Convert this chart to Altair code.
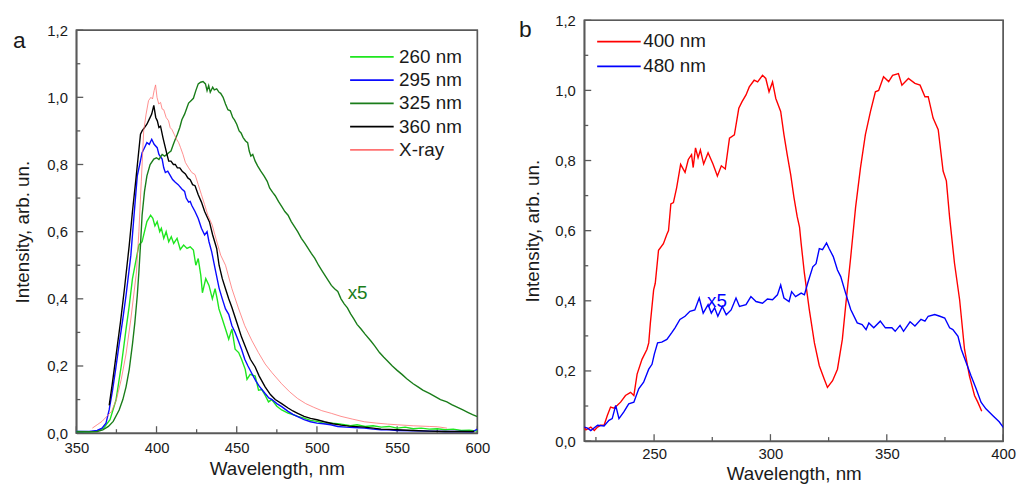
import altair as alt
import pandas as pd

# ---------------- data: panel a (emission spectra) ----------------
NAMES_A = ["260 nm", "295 nm", "325 nm", "360 nm", "X-ray"]
COLORS_A = ["#1ee61e", "#0a0aff", "#1a7d1a", "#000000", "#ff7272"]

EXC_260 = [(350, 0.005), (358, 0.004), (363, 0.006), (367, 0.015), (371, 0.04), (374.7, 0.098), (378, 0.2),
           (381, 0.31), (383, 0.38), (385, 0.46), (387, 0.51), (389, 0.56), (391, 0.57), (392.5, 0.6),
           (394, 0.63), (396.3, 0.649), (397.7, 0.64), (399, 0.617), (400.4, 0.63), (402, 0.60), (403, 0.61),
           (404.5, 0.58), (406, 0.60), (407.6, 0.57), (409.2, 0.585), (410.7, 0.565), (412.8, 0.58),
           (414.8, 0.547), (416.9, 0.56), (419, 0.55), (421, 0.555), (423, 0.545), (424.5, 0.50), (426, 0.52),
           (427.6, 0.47), (428.6, 0.418), (430.7, 0.46), (432.7, 0.44), (434.8, 0.40), (436.5, 0.43),
           (437.8, 0.40), (438.9, 0.37), (441, 0.34), (443, 0.31), (445, 0.28), (447, 0.31), (449, 0.25),
           (451.2, 0.24), (453, 0.22), (455.3, 0.19), (456.4, 0.16), (458.4, 0.175), (461.5, 0.17),
           (463.6, 0.128), (465.6, 0.13), (468, 0.11), (469.8, 0.093), (471.8, 0.10), (475, 0.08), (478, 0.069),
           (482, 0.06), (485, 0.055), (488, 0.05), (492, 0.045), (496, 0.038), (500, 0.035), (504, 0.03),
           (508.6, 0.03), (513, 0.028), (517, 0.025), (521, 0.022), (525, 0.025), (530, 0.02), (535, 0.022),
           (540, 0.018), (545, 0.02), (550, 0.015), (555, 0.018), (560, 0.013), (565, 0.015), (570, 0.012),
           (575, 0.013), (580, 0.01), (585, 0.012), (590, 0.008), (595, 0.009), (600, 0.006)]

EXC_295 = [(350, 0.005), (358, 0.005), (363, 0.008), (366, 0.015), (368.5, 0.03), (370.5, 0.07), (372.6, 0.128),
           (374.5, 0.19), (376.7, 0.265), (379, 0.34), (381, 0.41), (384, 0.53), (386, 0.65), (388, 0.766),
           (389.5, 0.80), (391, 0.835), (392.5, 0.85), (394, 0.865), (395.5, 0.86), (397, 0.875), (398.5, 0.86),
           (400.4, 0.85), (401.5, 0.83), (403.5, 0.816), (404.5, 0.79), (405.5, 0.776), (407, 0.78),
           (408.6, 0.767), (410, 0.755), (411.7, 0.747), (413.5, 0.74), (415.8, 0.727), (417.5, 0.72),
           (418.5, 0.70), (420, 0.688), (421, 0.69), (422, 0.678), (424, 0.66), (426, 0.639), (428, 0.61),
           (430, 0.59), (431.5, 0.60), (432.7, 0.57), (434.4, 0.54), (436.5, 0.49), (439, 0.432), (441, 0.40),
           (443, 0.37), (445, 0.354), (447, 0.32), (449, 0.30), (451, 0.275), (453, 0.25), (455, 0.22),
           (457, 0.20), (459.5, 0.177), (462, 0.155), (464, 0.14), (467.7, 0.118), (470, 0.105), (472, 0.10),
           (475, 0.088), (478, 0.079), (482, 0.065), (485, 0.056), (488, 0.049), (492, 0.04), (496, 0.034),
           (500, 0.03), (504, 0.028), (508.6, 0.025), (513, 0.02), (518, 0.018), (523, 0.017), (529.5, 0.015),
           (535, 0.012), (540, 0.01), (545, 0.01), (550, 0.008), (560, 0.007), (570, 0.006), (580, 0.005),
           (590, 0.005), (597, 0.004), (600, 0.012)]

EXC_325 = [(350, 0.004), (358, 0.004), (363, 0.005), (366.5, 0.01), (370, 0.02), (373, 0.035), (376.7, 0.069),
           (379, 0.10), (381, 0.138), (383, 0.19), (385, 0.265), (386.5, 0.33), (388, 0.41), (389, 0.48),
           (390, 0.56), (391, 0.649), (392.5, 0.72), (394, 0.766), (396, 0.80), (398.3, 0.816), (400, 0.82),
           (401.5, 0.815), (403.5, 0.83), (405, 0.825), (406.5, 0.83), (407.6, 0.835), (409, 0.84),
           (410.5, 0.86), (411.7, 0.875), (413, 0.89), (414.5, 0.91), (415.8, 0.933), (417.5, 0.95),
           (419, 0.97), (420, 0.983), (421.5, 0.99), (423, 0.997), (424.5, 1.02), (426, 1.04), (427.5, 1.045),
           (429, 1.047), (430.5, 1.04), (431.5, 1.02), (432.5, 1.035), (433.5, 1.015), (435, 1.03),
           (436, 1.022), (437.5, 1.025), (439, 1.015), (440, 1.012), (441.5, 1.0), (443, 0.98), (444.5, 0.963),
           (446, 0.96), (447.5, 0.94), (448.6, 0.933), (450, 0.92), (451.5, 0.9), (452.7, 0.894), (454, 0.88),
           (455.5, 0.87), (456.8, 0.865), (457.8, 0.84), (458.8, 0.825), (460, 0.83), (461.5, 0.81),
           (463, 0.796), (465, 0.78), (467, 0.766), (469, 0.75), (470.5, 0.73), (472.4, 0.717), (474, 0.707),
           (476, 0.69), (478, 0.675), (480, 0.66), (482, 0.649), (484, 0.63), (486, 0.615), (488, 0.60),
           (490.3, 0.58), (492.5, 0.565), (494.5, 0.55), (496.5, 0.535), (498.6, 0.521), (501, 0.50),
           (503, 0.485), (504.7, 0.472), (507, 0.455), (509, 0.44), (511, 0.43), (513, 0.422), (515, 0.40),
           (517, 0.385), (519, 0.373), (521, 0.355), (523, 0.34), (525, 0.324), (527.5, 0.31), (530, 0.295),
           (533.5, 0.275), (536, 0.26), (539, 0.24), (541.7, 0.226), (544, 0.215), (547, 0.20), (550, 0.187),
           (553, 0.175), (556, 0.162), (560, 0.147), (563, 0.138), (566, 0.128), (570.4, 0.118), (574, 0.108),
           (577, 0.10), (581, 0.093), (584, 0.085), (587, 0.078), (591, 0.069), (594, 0.062), (597, 0.055),
           (600, 0.049)]

EXC_360 = [(370.5, 0.083), (372.5, 0.15), (375, 0.24), (377.5, 0.33), (380, 0.43), (383, 0.56), (385, 0.66),
           (387, 0.75), (388.5, 0.82), (390, 0.89), (391, 0.90), (392.5, 0.91), (394, 0.92), (395.5, 0.935),
           (397, 0.95), (398.3, 0.976), (399.5, 0.94), (400.5, 0.93), (401.5, 0.91), (402.5, 0.914),
           (404, 0.88), (405, 0.86), (406.5, 0.83), (407.6, 0.81), (409, 0.81), (410.5, 0.80), (411.7, 0.80),
           (413, 0.79), (414.5, 0.79), (416, 0.78), (418, 0.772), (419.5, 0.76), (421, 0.755), (422.5, 0.74),
           (424, 0.737), (426, 0.71), (428, 0.688), (430, 0.66), (433, 0.629), (435, 0.59), (437.5, 0.55),
           (439, 0.50), (441, 0.46), (443, 0.43), (445, 0.40), (447, 0.374), (450, 0.33), (453, 0.286),
           (456, 0.25), (458.5, 0.22), (461.5, 0.197), (464, 0.17), (467.7, 0.138), (471, 0.115), (474, 0.10),
           (478, 0.088), (482, 0.075), (485, 0.066), (488, 0.059), (492, 0.05), (496, 0.044), (500, 0.04),
           (504.7, 0.034), (510, 0.028), (515, 0.024), (520, 0.021), (529.5, 0.018), (535, 0.015), (540, 0.012),
           (550, 0.01), (560, 0.008), (570, 0.006), (580, 0.005), (590, 0.005), (598, 0.005)]

XRAY = [(360, 0.015), (363, 0.025), (366, 0.035), (369, 0.05), (372, 0.065), (375, 0.1), (378, 0.16),
        (381, 0.236), (384, 0.34), (387.5, 0.48), (389, 0.6), (390.5, 0.75), (392, 0.90), (393.5, 0.95),
        (395, 0.99), (396.5, 1.0), (397.5, 0.995), (398.5, 1.02), (399.4, 1.037), (400.3, 1.0), (401.4, 0.98),
        (402.5, 0.985), (403.5, 0.965), (404.5, 0.963), (406, 0.94), (407.5, 0.93), (408.5, 0.91),
        (409.6, 0.904), (411, 0.89), (412.5, 0.875), (413.8, 0.865), (415, 0.85), (416.5, 0.83), (418, 0.806),
        (420, 0.79), (422, 0.776), (424, 0.77), (426, 0.74), (428, 0.71), (430, 0.68), (432, 0.649),
        (434.7, 0.62), (437, 0.58), (440, 0.53), (443, 0.50), (447, 0.43), (451, 0.373), (455, 0.32),
        (459.5, 0.275), (463.5, 0.24), (467.7, 0.206), (472, 0.18), (478, 0.147), (483, 0.123), (488, 0.103),
        (493, 0.088), (498, 0.077), (503, 0.067), (509, 0.059), (515, 0.05), (522, 0.042), (529.5, 0.034),
        (537, 0.03), (544, 0.027), (550, 0.025), (560, 0.022), (570, 0.02), (575, 0.019), (581, 0.015)]

# ---------------- data: panel b (excitation spectra) ----------------
NAMES_B = ["400 nm", "480 nm"]
COLORS_B = ["#ff0000", "#0000ff"]

EM_400 = [(220, 0.040), (220.7, 0.032), (221.5, 0.035), (222.8, 0.04), (224.3, 0.030), (225.7, 0.04), (227, 0.045),
          (228.5, 0.045), (229.9, 0.073), (231.3, 0.097), (232.8, 0.094), (234.2, 0.102), (235.6, 0.111),
          (237.7, 0.130), (239.9, 0.139), (241.3, 0.130), (242.7, 0.191), (244.8, 0.233), (246.9, 0.261),
          (247.7, 0.28), (248.4, 0.337), (249.8, 0.431), (250.5, 0.45), (251.9, 0.544), (254, 0.563),
          (255.5, 0.59), (256.2, 0.60), (257.2, 0.676), (258.3, 0.68), (259.7, 0.723), (261.4, 0.789),
          (263.3, 0.766), (264.7, 0.803), (266.1, 0.817), (266.8, 0.78), (267.8, 0.836), (268.9, 0.808),
          (269.9, 0.83), (271.3, 0.79), (273.2, 0.822), (275.3, 0.79), (277.2, 0.756), (278.9, 0.785),
          (280.6, 0.776), (282.4, 0.864), (284.5, 0.873), (286.4, 0.949), (287.8, 0.968), (289.5, 0.987),
          (290.9, 1.01), (293, 1.029), (294.5, 1.024), (296.6, 1.043), (298, 1.034), (299.4, 0.996),
          (300.9, 1.024), (302.3, 0.977), (304.4, 0.94), (305.8, 0.874), (307.2, 0.817), (308.7, 0.76),
          (310.1, 0.695), (311.5, 0.64), (312.5, 0.61), (313.2, 0.563), (314.6, 0.478), (316.7, 0.375),
          (318.9, 0.28), (321, 0.215), (323.1, 0.177), (324.5, 0.153), (326.7, 0.172), (328.8, 0.205),
          (330.9, 0.29), (332.3, 0.384), (334.5, 0.525), (336.6, 0.667), (338.7, 0.78), (340.8, 0.874),
          (343, 0.94), (345.1, 0.996), (346.5, 1.0), (348.6, 1.039), (350.8, 1.025), (352.5, 1.043),
          (355, 1.048), (356.5, 1.015), (359.3, 1.034), (362.1, 1.02), (364.3, 1.015), (366.4, 0.982),
          (367.8, 0.982), (369.9, 0.921), (372.1, 0.888), (374.2, 0.77), (375.6, 0.742), (377, 0.638),
          (379.1, 0.507), (381.3, 0.403), (383.4, 0.262), (385.5, 0.186), (387.7, 0.13), (389.1, 0.111),
          (390.8, 0.085)]

EM_480 = [(220, 0.04), (221.4, 0.037), (222.8, 0.03), (225.7, 0.045), (228.5, 0.043), (230.6, 0.059), (232, 0.064),
          (233.5, 0.102), (234.9, 0.064), (237, 0.083), (239.1, 0.106), (241.3, 0.111), (243.4, 0.149),
          (245.5, 0.168), (247.7, 0.205), (249.1, 0.219), (250.1, 0.248), (251.5, 0.28), (253.3, 0.282),
          (255.5, 0.29), (257.6, 0.309), (259, 0.323), (261.1, 0.347), (263.3, 0.356), (265.4, 0.37),
          (267.5, 0.374), (269.4, 0.408), (271.1, 0.365), (273.2, 0.389), (274.6, 0.365), (276, 0.38),
          (277.4, 0.356), (279.3, 0.384), (281, 0.36), (283.1, 0.374), (285.2, 0.408), (286.7, 0.384),
          (289.5, 0.389), (291.6, 0.412), (293.8, 0.398), (296.6, 0.393), (298.7, 0.405), (300.9, 0.403),
          (303, 0.417), (304.4, 0.445), (305.8, 0.408), (308, 0.398), (309.1, 0.426), (310.8, 0.412),
          (313.2, 0.422), (314.6, 0.417), (316, 0.45), (318.2, 0.497), (319.6, 0.506), (321, 0.549),
          (322.4, 0.546), (324.1, 0.565), (325.2, 0.549), (327, 0.526), (328.8, 0.488), (330.2, 0.469),
          (332.3, 0.422), (334.5, 0.375), (337.3, 0.337), (339.4, 0.332), (341.1, 0.318), (342.3, 0.337),
          (344.4, 0.323), (347.2, 0.342), (349.4, 0.323), (352.2, 0.323), (353.6, 0.313), (355.7, 0.33),
          (357.2, 0.313), (360, 0.34), (362.1, 0.328), (364.7, 0.347), (366.4, 0.342), (367.8, 0.356),
          (370.6, 0.361), (372.8, 0.356), (374.9, 0.351), (377, 0.323), (378.4, 0.318), (380.6, 0.299),
          (382, 0.262), (384.1, 0.224), (386.2, 0.186), (388.4, 0.149), (390.5, 0.111), (392.6, 0.092),
          (395.5, 0.073), (398.3, 0.055), (400.4, 0.036)]

# ---------------- axes ticks ----------------
XA_MAJOR = [350, 400, 450, 500, 550, 600]
XA_MINOR = [375, 425, 475, 525, 575]
XB_MAJOR = [250, 300, 350, 400]
XB_MINOR = [225, 275, 325, 375]
Y_MAJOR = [0.0, 0.2, 0.4, 0.6, 0.8, 1.0, 1.2]
Y_MINOR = [0.1, 0.3, 0.5, 0.7, 0.9, 1.1]

FONT = "Liberation Sans"
FRAME = "#5a5a5a"
TXT = "#1a1a1a"
COMMA = "replace(format(datum.value, '.1f'), '.', ',')"


def make_df(names, series):
    rows = []
    for i, (name, pts) in enumerate(zip(names, series)):
        for j, (x, y) in enumerate(pts):
            rows.append({"series": name, "wl": x, "val": y, "k": i * 1000 + j})
    return pd.DataFrame(rows)


def panel(df, names, colors, thin, xdom, xmajor, xminor, W, H, xlab_pad, xtitle_pad, ytitle_pad,
          legx, legy, rowpad, laboff, letter, letter_x, letter_y, x5_color, x5_x, x5_y, lw):
    xs = alt.Scale(domain=xdom, nice=False, zero=False)
    ys = alt.Scale(domain=[0, 1.2], nice=False)
    xaxis = alt.Axis(values=xmajor, title="Wavelength, nm", ticks=False, tickSize=0, domain=True,
                     domainColor=FRAME, domainWidth=1.4, grid=False,
                     labelPadding=xlab_pad, titlePadding=xtitle_pad, labelFontSize=15, titleFontSize=19,
                     labelFont=FONT, titleFont=FONT, labelColor=TXT, titleColor=TXT, titleFontWeight="normal",
                     format="d", labelFlush=False)
    yaxis = alt.Axis(values=Y_MAJOR, title="Intensity, arb. un.", ticks=False, tickSize=0, domain=True,
                     domainColor=FRAME, domainWidth=1.4,
                     grid=False, labelPadding=9, titlePadding=ytitle_pad, labelFontSize=15, titleFontSize=19,
                     labelFont=FONT, titleFont=FONT, labelColor=TXT, titleColor=TXT, titleFontWeight="normal",
                     labelExpr=COMMA, labelFlush=False)
    cscale = alt.Scale(domain=names, range=colors)
    legend = alt.Legend(title=None, orient="none", legendX=legx, legendY=legy, padding=0,
                        symbolType="M-4,0H4", symbolSize=121, symbolOffset=12.5,
                        symbolStrokeWidth=1.8, symbolFillColor="transparent",
                        labelOffset=laboff, labelFontSize=19, labelFont=FONT, labelColor=TXT,
                        rowPadding=rowpad, labelLimit=200)

    def line_layer(test, width):
        return alt.Chart(df).transform_filter(test).mark_line(clip=True, strokeWidth=width).encode(
            x=alt.X("wl:Q", scale=xs, axis=xaxis),
            y=alt.Y("val:Q", scale=ys, axis=yaxis),
            color=alt.Color("series:N", scale=cscale, legend=legend),
            order="k:Q",
        )

    thick_lines = line_layer(alt.FieldOneOfPredicate(field="series", oneOf=[n for n in names if n != thin]), lw)
    layers = [thick_lines]
    if thin in names:
        layers.append(line_layer(alt.FieldEqualPredicate(field="series", equal=thin), 0.8))

    frame = alt.Chart(pd.DataFrame({"f": [0]})).mark_rect(
        fill="transparent", stroke=FRAME, strokeWidth=1.4).encode(
        x=alt.value(0), x2=alt.value(W), y=alt.value(0), y2=alt.value(H))

    def xt(vals, ln):
        return alt.Chart(pd.DataFrame({"wl": vals})).mark_rule(color=FRAME, strokeWidth=1.3).encode(
            x=alt.X("wl:Q", scale=xs, axis=xaxis), y=alt.value(H), y2=alt.value(H - ln))

    def yt(vals, ln):
        return alt.Chart(pd.DataFrame({"val": vals})).mark_rule(color=FRAME, strokeWidth=1.3).encode(
            y=alt.Y("val:Q", scale=ys, axis=yaxis), x=alt.value(0), x2=alt.value(ln))

    letter_layer = alt.Chart(pd.DataFrame({"t": [letter]})).mark_text(
        font=FONT, fontSize=23, color=TXT, align="left", baseline="middle").encode(
        text="t:N", x=alt.value(letter_x), y=alt.value(letter_y))
    x5_layer = alt.Chart(pd.DataFrame({"t": ["x5"]})).mark_text(
        font=FONT, fontSize=19, color=x5_color, align="left", baseline="middle").encode(
        text="t:N", x=alt.value(x5_x), y=alt.value(x5_y))

    return alt.layer(frame, xt(xminor, 4), xt(xmajor, 7), yt(Y_MINOR, 4), yt(Y_MAJOR, 7), *layers,
                     letter_layer, x5_layer).properties(
        width=W, height=H, view=alt.ViewBackground(stroke=FRAME, strokeWidth=1.4))


df_a = make_df(NAMES_A, [EXC_260, EXC_295, EXC_325, EXC_360, XRAY])
df_b = make_df(NAMES_B, [EM_400, EM_480])

chart_a = panel(df_a, NAMES_A, COLORS_A, "X-ray", [350, 600], XA_MAJOR, XA_MINOR, 405, 407,
                8, 4, 14.5, 276.5, 17.5, 3.5, 18, "a", -64, 11.5, "#1a7d1a", 274, 266, 1.4)
chart_b = panel(df_b, NAMES_B, COLORS_B, "", [220, 400], XB_MAJOR, XB_MINOR, 423, 425,
                6, 3, 12.5, 13, 12, 5, 15, "b", -66, 10, "#0000ff", 124, 284, 1.4)

# thin empty band that lowers panel a relative to panel b
spacer = alt.Chart(pd.DataFrame({"t": [""]})).mark_text().encode(
    text="t:N", x=alt.value(0), y=alt.value(0)).properties(
    width=405, height=1, view=alt.ViewBackground(stroke="transparent"))

left = alt.vconcat(spacer, chart_a, spacing=-4).resolve_scale(color="independent").resolve_legend(
    color="independent")

chart = alt.hconcat(left, chart_b, spacing=27).resolve_scale(color="independent").resolve_legend(
    color="independent").properties(
    padding={"left": 4, "top": 2, "right": 0, "bottom": 0}
).configure(background="white")

chart.save("out.html", embed_options={"renderer": "svg", "actions": False})
